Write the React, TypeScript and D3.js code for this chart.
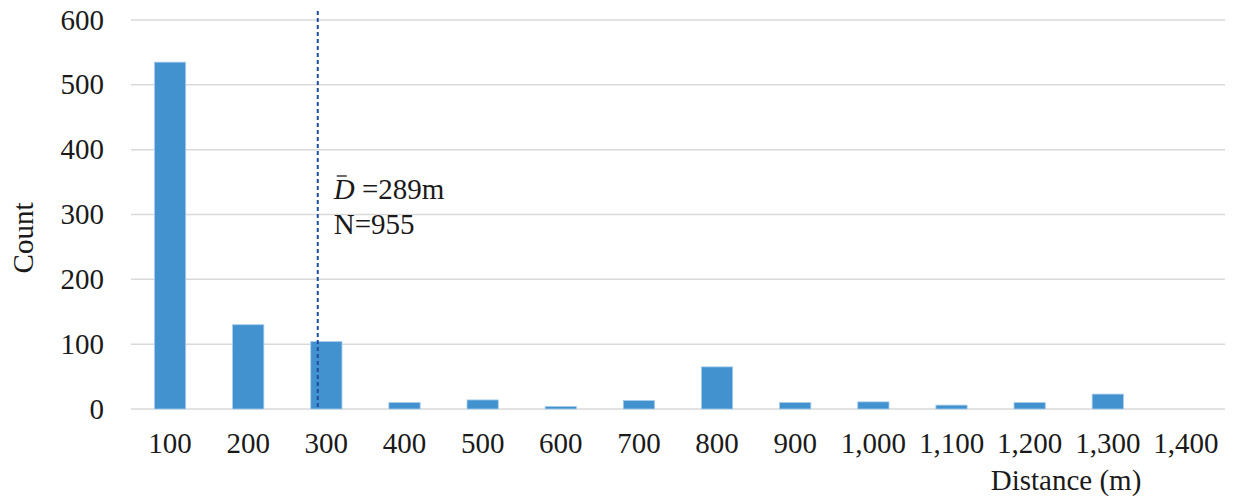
import * as d3 from "d3";
import { useEffect, useRef } from "react";

const distances = [100, 200, 300, 400, 500, 600, 700, 800, 900, 1000, 1100, 1200, 1300, 1400];
const counts = [535, 130, 104, 10, 14, 4, 13, 65, 10, 11, 6, 10, 23, 0];
const yTicks = [0, 100, 200, 300, 400, 500, 600];
const meanDistance = 289;
const totalN = 955;

function drawChart(node: SVGSVGElement) {
  const width = 1240;
  const height = 500;
  const marginLeft = 131;
  const marginRight = 15;
  const marginTop = 20;
  const marginBottom = 91;
  const font = "'Liberation Serif', 'Times New Roman', serif";
  const fs = 29;

  const svg = d3.select(node);
  svg.selectAll("*").remove();

  const x = d3.scaleBand<number>()
    .domain(distances)
    .range([marginLeft, width - marginRight])
    .paddingInner(0.6)
    .paddingOuter(0.3);

  const y = d3.scaleLinear()
    .domain([0, 600])
    .range([height - marginBottom, marginTop]);

  // continuous scale through the band centres, for the mean line
  const xc = d3.scaleLinear()
    .domain([distances[0], distances[1]])
    .range([
      (x(distances[0]) ?? 0) + x.bandwidth() / 2,
      (x(distances[1]) ?? 0) + x.bandwidth() / 2,
    ]);

  // gridlines
  svg.append("g")
    .selectAll("line")
    .data(yTicks)
    .join("line")
      .attr("x1", marginLeft)
      .attr("x2", width - marginRight)
      .attr("y1", d => y(d))
      .attr("y2", d => y(d))
      .attr("stroke", "#d9d9d9")
      .attr("stroke-width", 1.5);

  // y tick labels
  svg.append("g")
    .attr("font-family", font)
    .attr("font-size", fs)
    .attr("text-anchor", "end")
    .attr("fill", "#1a1a1a")
    .selectAll("text")
    .data(yTicks)
    .join("text")
      .attr("x", 104)
      .attr("y", d => y(d))
      .attr("dy", "0.33em")
      .text(d => d3.format(",")(d));

  // bars
  svg.append("g")
    .attr("fill", "#4292d0")
    .attr("stroke", "#a9cdeb")
    .attr("stroke-width", 0.8)
    .selectAll("rect")
    .data(distances)
    .join("rect")
      .attr("x", d => x(d) ?? 0)
      .attr("y", (d, i) => y(counts[i]))
      .attr("width", x.bandwidth())
      .attr("height", (d, i) => y(0) - y(counts[i]));

  // x tick labels
  svg.append("g")
    .attr("font-family", font)
    .attr("font-size", fs)
    .attr("text-anchor", "middle")
    .attr("fill", "#1a1a1a")
    .selectAll("text")
    .data(distances)
    .join("text")
      .attr("x", d => (x(d) ?? 0) + x.bandwidth() / 2)
      .attr("y", 453)
      .text(d => d3.format(",")(d));

  // mean line
  svg.append("line")
    .attr("x1", xc(meanDistance))
    .attr("x2", xc(meanDistance))
    .attr("y1", 11)
    .attr("y2", y(0))
    .attr("stroke", "#1f4e9f")
    .attr("stroke-width", 2)
    .attr("stroke-dasharray", "4,3");

  // annotation
  const ax = xc(meanDistance) + 16;
  const t1 = svg.append("text")
    .attr("font-family", font)
    .attr("font-size", fs)
    .attr("fill", "#1a1a1a")
    .attr("x", ax)
    .attr("y", 199);
  t1.append("tspan").attr("font-style", "italic").text("D");
  t1.append("tspan").text(" =" + meanDistance + "m");
  svg.append("line")
    .attr("x1", ax + 3)
    .attr("x2", ax + 13)
    .attr("y1", 176)
    .attr("y2", 176)
    .attr("stroke", "#1a1a1a")
    .attr("stroke-width", 1.3);

  svg.append("text")
    .attr("font-family", font)
    .attr("font-size", fs)
    .attr("fill", "#1a1a1a")
    .attr("x", ax)
    .attr("y", 234)
    .text("N=" + totalN);

  // axis titles
  svg.append("text")
    .attr("font-family", font)
    .attr("font-size", fs)
    .attr("fill", "#1a1a1a")
    .attr("text-anchor", "middle")
    .attr("x", 1066)
    .attr("y", 490)
    .text("Distance (m)");

  svg.append("text")
    .attr("font-family", font)
    .attr("font-size", fs)
    .attr("fill", "#1a1a1a")
    .attr("text-anchor", "middle")
    .attr("transform", "translate(33,238) rotate(-90)")
    .text("Count");
}

export default function App() {
  const ref = useRef<SVGSVGElement | null>(null);
  useEffect(() => {
    if (ref.current) drawChart(ref.current);
  }, []);
  return (
    <svg
      ref={ref}
      width={1240}
      height={500}
      style={{ position: "absolute", left: 0, top: 0, background: "#fff" }}
    />
  );
}
